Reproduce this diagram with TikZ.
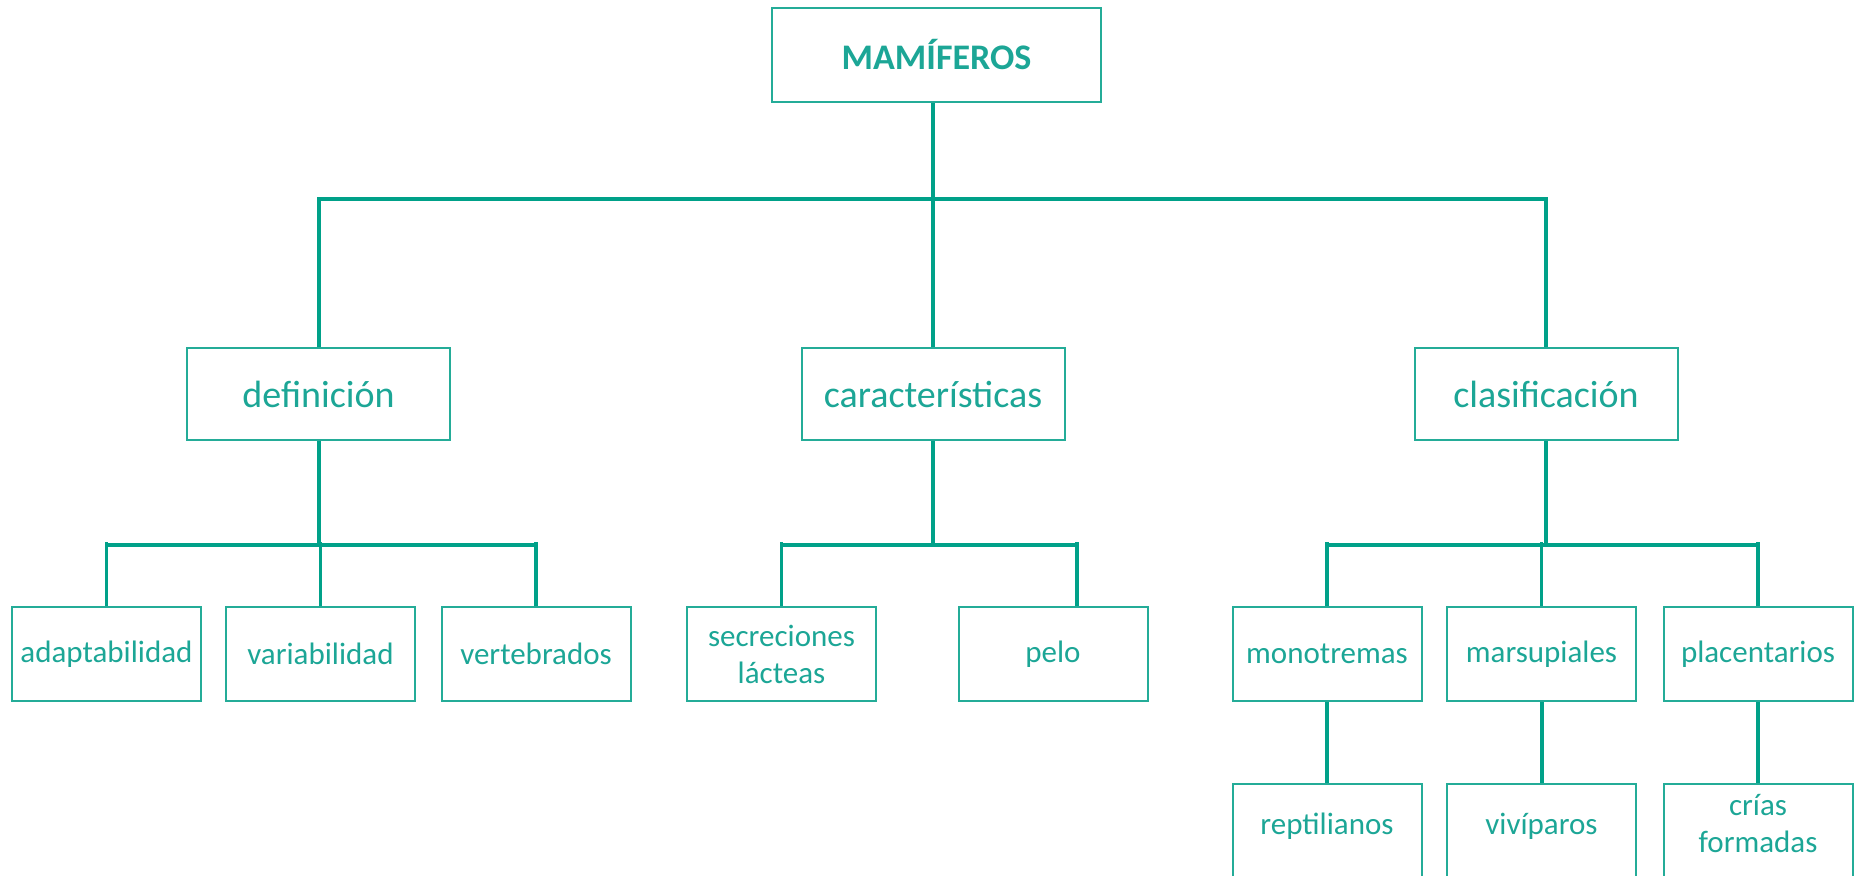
\documentclass[tikz,border=0pt]{standalone}
\usepackage{fontspec}
\setmainfont{Carlito}
\usepackage{tikz}
\usetikzlibrary{positioning}

\definecolor{linkc}{RGB}{0,161,137}
\definecolor{boxline}{RGB}{36,172,152}
\definecolor{txt}{RGB}{28,166,150}

\begin{document}
\begin{tikzpicture}[x=1pt,y=-1pt,
		box/.style={draw=boxline, line width=2pt, text=txt, inner sep=0pt, align=center,
			minimum width=189pt, minimum height=94pt, font=\fontsize{31}{37}\selectfont},
		mid/.style={box, minimum width=263pt, minimum height=92pt, font=\fontsize{38}{44}\selectfont},
		leaf/.style={box, anchor=north, minimum height=0pt, text height=50pt, text depth=120pt},
		link/.style={draw=linkc, line width=4pt},
		sublink/.style={draw=linkc, line width=3.5pt}]
	\useasboundingbox (0,0) rectangle (1854,875);

				\node[box, minimum width=329pt, font=\fontsize{36}{40}\selectfont\bfseries] (mam) at (936.5,55) {MAMÍFEROS};

				\node[mid] (def) at (318.5,394)  {definición};
				\node[mid] (car) at (933,394)    {características};
				\node[mid] (cla) at (1546,394)   {clasificación};

				\node[box] (ada) at (106.5,654)  {adaptabilidad};
				\node[box] (var) at (320.5,654)  {variabilidad};
				\node[box] (ver) at (536,654)    {vertebrados};
				\node[box] (sec) at (781.5,654)  {secreciones\\lácteas};
				\node[box] (pel) at (1053,654)   {pelo};
				\node[box] (mon) at (1327,654)   {monotremas};
				\node[box] (mar) at (1541.5,654) {marsupiales};
				\node[box] (pla) at (1758,654)   {placentarios};

				\node[leaf] (rep) at (1327,783)  {reptilianos};
				\node[leaf] (viv) at (1541.5,783) {vivíparos};
				\node[leaf, text height=68pt] (cri) at (1758,783) {crías\\formadas};

				% main branches
				\coordinate (bar1) at (0,199);
				\draw[link] (car.north |- mam.south) -- (car.north);
				\draw[link] (def.north) |- (bar1 -| cla.north) -- (cla.north);

				% second level
				\coordinate (bar2) at (0,545);
				\coordinate (top2) at (0,542);
				\draw[link] (def.south) -- (def.south |- bar2);
				\draw[link] (car.south) -- (car.south |- bar2);
				\draw[link] (cla.south) -- (cla.south |- bar2);
				\draw[sublink] (ada.north |- bar2) -- (ver.north |- bar2);
				\draw[sublink] (sec.north |- bar2) -- ([xshift=24pt]pel.north |- bar2);
				\draw[sublink] (mon.north |- bar2) -- (pla.north |- bar2);
				\foreach \n in {ada,var,ver,sec,mon,mar,pla}
					\draw[sublink] (\n.north) -- (\n.north |- top2);
				\draw[sublink] ([xshift=24pt]pel.north) -- ([xshift=24pt]pel.north |- top2);

				% third level
				\draw[link] (mon.south) -- (rep.north);
				\draw[link] (mar.south) -- (viv.north);
				\draw[link] (pla.south) -- (cri.north);
			\end{tikzpicture}
\end{document}
